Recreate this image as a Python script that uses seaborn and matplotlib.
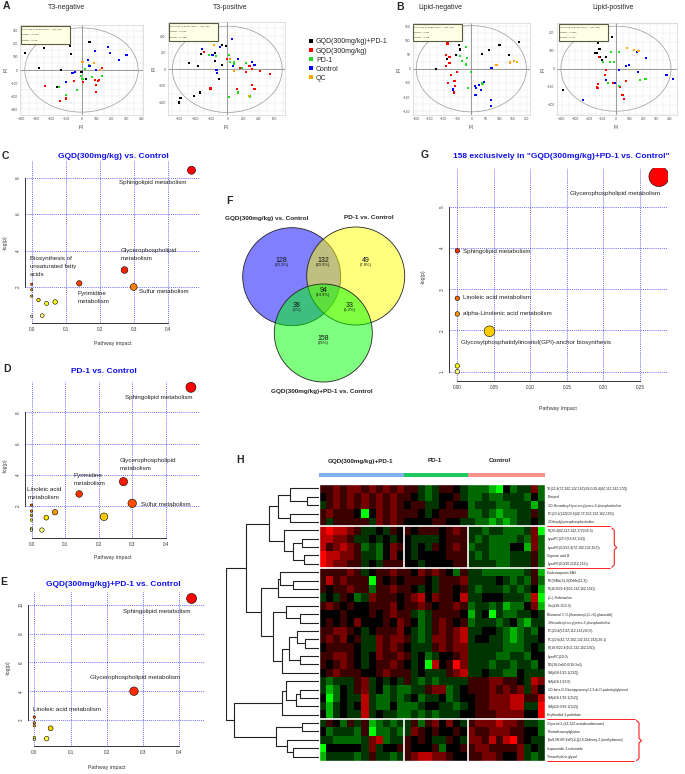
import matplotlib
matplotlib.use('Agg')
import matplotlib.pyplot as plt
import matplotlib.colors as mcolors
from matplotlib.patches import Ellipse, Circle, Rectangle
from matplotlib.ticker import AutoMinorLocator
import seaborn as sns
import pandas as pd
import numpy as np

sns.set_style('white')
plt.rcParams['font.family'] = ['Liberation Sans', 'DejaVu Sans']

# ---------------- data ----------------
groups = ['GQD(300mg/kg)+PD-1', 'GQD(300mg/kg)', 'PD-1', 'Control', 'QC']
group_colors = ['#000000', '#FF0000', '#22DD22', '#0000FF', '#FFA500']

# PCA score plots (t[1], t[2]) per group
t3neg_t1 = [[-378, -252, -75, -71, 53, -281, -135, 0, 31, -164],
            [-241, -141, -102, -49, 9, 91, 108, 119, 95, 95, 135],
            [-152, -102, -31, -2, 7, 24, 68, 139, 51],
            [-106, -60, -46, 46, 53, 91, 95, 179, 190, 248, 300],
            [7, 82, 124]]
t3neg_t2 = [[130, 168, 181, 122, 214, 18, 0, -13, -69, -130],
            [-125, -240, -219, -87, -92, -74, -84, -79, -115, -171, 15],
            [-130, -189, -156, -43, -69, 8, -54, -48, 36],
            [-89, -23, -18, 77, 28, 148, -3, 176, 133, 79, 115],
            [64, 54, -3]]
t3pos_t1 = [[-608, -591, -421, -345, -485, -370, -328, -153, -72, -17, -153, -68, -102],
            [-298, -213, -4, 119, 162, 238, 281, 311, 311, 345, 409, 536],
            [-230, -145, 17, 34, 81, 89, 183, 238, 132, 26, 289],
            [-323, -187, -94, 55, 140, 68, -136, -132, 315, 345],
            [-166, 34, 89, 272]]
t3pos_t2 = [[-400, -348, -320, -280, 80, 44, 180, 192, 292, 284, 100, 52, -120],
            [204, -232, 124, -240, 20, -28, 44, 0, -188, -240, -20, -56],
            [168, 164, 168, 92, 84, 60, 12, 72, -280, -336, -328],
            [240, 172, 272, 364, 128, 36, -8, -48, 92, 52],
            [292, 124, -16, -320]]
lipneg_t1 = [[-127, -88, -55, -45, -40, 39, 65, 102, 135, 173],
             [-86, -91, -79, -79, -91, -53, -73, -61, -85, -58, -64],
             [-18, -40, -33, -15, -18, 0, -12, 40],
             [-67, 12, 18, 28, 45, 36, 15, 70, 70, 73],
             [91, 139, 154, 166]]
lipneg_t2 = [[0, 34, 48, 83, 68, 52, 66, 83, 49, 93],
             [89, 48, 40, 21, 11, -11, -23, -42, -49, -61, -84],
             [77, 46, 28, 39, 15, -11, -67, -52],
             [-73, -61, -69, -57, -46, -75, -93, -110, -131, 2],
             [13, 22, 27, 25]]
lippos_t1 = [[-394, -135, -128, -121, -155, -140, -118, -32, -76, -103],
             [-76, -79, -130, -143, -130, -20, 30, 49, 59, 74, -123],
             [-94, -44, -37, -12, 20, 22, 175, 219, -57],
             [-241, -76, -5, 25, 74, 94, 153, 222, 160, 374, 424],
             [79, 135, 160, 167]]
lippos_t2 = [[-119, 141, 156, 111, 85, 89, 63, 174, 63, 48],
             [-9, -37, -109, -104, -87, -81, -100, -148, -169, -69, 63],
             [35, 39, 91, 37, 94, -96, -63, -57, -81],
             [-174, -63, -81, -7, 17, 19, 91, 61, -20, -35, -56],
             [113, 104, 100, 98]]
# Hotelling T2 ellipse semi-axes, R2X values
t3neg_ell, t3neg_r2x = (378, 323), (0.2418, 0.183)
t3pos_ell, t3pos_r2x = (694, 520), (0.2712, 0.1086)
lipneg_ell, lipneg_r2x = (199, 152), (0.365, 0.169)
lippos_ell, lippos_r2x = (407, 236), (0.3409, 0.163)

# pathway analysis (impact, -log(p))
C_impact = [0.47, 0.273, 0.14, 0.0, 0.30, 0.0, 0.0, 0.02, 0.069, 0.044, 0.0, 0.031]
C_logp = [8.4, 2.93, 2.2, 2.15, 2.0, 1.85, 1.5, 1.29, 1.18, 1.1, 0.4, 0.43]
D_impact = [0.475, 0.274, 0.142, 0.30, 0.0, 0.216, 0.07, 0.0, 0.044, 0.0, 0.0, 0.031, 0.0, 0.0]
D_logp = [9.6, 3.56, 2.77, 2.17, 2.05, 1.31, 1.6, 1.67, 1.25, 1.4, 1.1, 0.46, 0.55, 0.45]
E_impact = [0.434, 0.275, 0.0, 0.0, 0.0, 0.045, 0.0, 0.034, 0.0]
E_logp = [10.45, 4.0, 2.2, 1.8, 1.6, 1.42, 0.78, 0.70, 0.64]
G_impact = [0.276, 0.0, 0.0, 0.0, 0.044, 0.0, 0.0]
G_logp = [5.73, 3.93, 2.78, 2.4, 1.98, 1.14, 1.0]

# Venn counts: A only, A&B, B only, A&B&C, A&C, B&C, C only
venn_counts = [128, 132, 49, 94, 38, 33, 158]
venn_names = ['GQD(300mg/kg) vs. Control', 'PD-1 vs. Control', 'GQD(300mg/kg)+PD-1 vs. Control']

# heatmap: digits 0..8 -> -4..+4 (green..black..red)
hm_groups = ['GQD(300mg/kg)+PD-1', 'PD-1', 'Control']
hm_group_n = [12, 9, 11]
hm_labels = [
    'TG(22:4(7Z,10Z,13Z,16Z)/24:0/20:4(8Z,11Z,14Z,17Z))', 'Elmiprel',
    '1-O-Hexadecyl-lyso-sn-glycero-3-phosphocholine',
    'PC(20:1(11Z)/22:6(4Z,7Z,10Z,13Z,16Z,19Z))', '2-Oleoylglycerophosphocholine',
    'PI(20:4(8Z,11Z,14Z,17Z)/16:0)', 'LysoPC(20:3(5Z,8Z,11Z))',
    'LysoPE(0:0/22:4(7Z,10Z,13Z,16Z))', 'Vignatic acid B', 'LysoPE(0:0/20:2(11Z,14Z))',
    'Kudzusaponin SA3', 'PE(DiMe(11,3)/DiMe(11,3))', 'PI(16:0/22:4(10Z,13Z,16Z,19Z))',
    '(+/-)-Terfenadine', 'Cer(d18:1/12:0)', 'Blumenol C O-[rhamnosyl-(1->6)-glucoside]',
    '1-Hexadecyl-sn-glycero-3-phosphocholine', 'PC(20:4(5Z,8Z,11Z,14Z)/20:0)',
    'PC(22:6(4Z,7Z,10Z,13Z,16Z,19Z)/20:1)', 'PI(18:0/22:4(10Z,13Z,16Z,19Z))',
    'LysoPC(20:0)', 'DG(18:2n6/0:0/18:3n3)', 'SM(d18:1/22:1(13Z))', 'SM(d18:1/23:0)',
    '1-O-beta-D-Glucopyranosyl-2,3-di-O-palmitoylglycerol', 'SM(d18:1/18:1(11Z))',
    'SM(d18:0/18:1(11Z))', 'Erythrodiol 3-palmitate', 'Glycerol 2-(9Z,12Z-octadecadienoate)',
    'Pentadecanoylglycine', '(1aS,5R,6R,8aR)-6-[(2,6-Dideoxy-2-(methylamino)',
    'Isopeonidin 3-rutinoside', 'Tetraethylene glycol']
hm_rows = [
    '556566565656|553235543|22210423362', '456565656565|543234453|22322333242',
    '356565656565|455334544|23332233313', '565554046565|554345555|22321223353',
    '535555536565|444455443|32212123343', '787765334354|545554565|33233222360',
    '776653343434|433334555|32322223262', '756765232465|434354565|23322244162',
    '877665332464|434444555|32322233352', '876655343555|443444455|33332233352',
    '555565345565|546565425|33222222351', '575655505454|555435556|33334323252',
    '545565525565|543435545|32333232341', '343542365554|567465547|33444333270',
    '565454455564|556545565|23323122461', '444544454565|532355554|13403223343',
    '454546444546|542356545|23332342133', '556654345556|432356567|33443212324',
    '565645336566|532366567|34433212334', '455554336565|433356566|33333222343',
    '556654346556|534234456|33332233244', '545654345565|434074586|33323323324',
    '456555445655|534333567|33433224333', '323335634343|532323333|55566554376',
    '312435634232|233566234|55565656364', '402433732232|342334234|45566677557',
    '313434732242|223443323|45566677338', '413433734332|232323334|45556666448',
    '354253512323|352564643|56667665332', '423332502232|365454454|65566655442',
    '332222367233|545433543|66575785433', '044444363445|544452445|56655556343',
    '133332353323|567766544|55665446323']
# row dendrogram merges (left, right, height); new clusters get ids 33, 34, ...
hm_merges = [(1, 2, 1.3), (0, 33, 3.1), (3, 4, 3.1), (34, 35, 4.4),
             (6, 7, 1.8), (8, 9, 1.6), (37, 38, 2.8), (5, 39, 3.8), (36, 40, 5.4),
             (11, 12, 2.8), (10, 42, 4.2), (43, 13, 4.4),
             (15, 16, 2.0), (14, 45, 3.6), (18, 19, 1.5), (17, 47, 2.4), (20, 21, 2.0),
             (48, 49, 3.2), (50, 22, 4.0), (46, 51, 5.0), (44, 52, 6.3), (41, 53, 7.9),
             (24, 25, 2.0), (55, 26, 2.5), (23, 56, 3.6), (57, 27, 4.0),
             (28, 29, 1.8), (31, 32, 2.8), (30, 60, 3.5), (59, 61, 4.6), (58, 62, 9.2),
             (54, 63, 10.0)]

# ---------------- figure ----------------
W, H = 685, 774
fig = plt.figure(figsize=(W / 100, H / 100), dpi=100)


def add_ax(x0, y0, x1, y1):
    return fig.add_axes([x0 / W, 1 - y1 / H, (x1 - x0) / W, (y1 - y0) / H])


def ftext(x, y, s, **kw):
    kw.setdefault('ha', 'center')
    kw.setdefault('va', 'center')
    return fig.text(x / W, 1 - y / H, s, **kw)


# panel letters
for letter, (lx, ly) in zip('ABCDEFGH', [(6, 6), (400, 7), (5, 156), (7, 369), (4, 582),
                                          (229, 201), (425, 155), (240, 460)]):
    ftext(lx, ly, letter, fontsize=7.5, fontweight='bold')


# ---------------- A / B : PCA ----------------
def pca_panel(box, t1, t2, xlim, ylim, xticks, yticks, ell, r2x, info_xy, legend=False):
    ax = add_ax(*box)
    rows = []
    for g, xs, ys in zip(groups, t1, t2):
        rows += [(g, a, b) for a, b in zip(xs, ys)]
    df = pd.DataFrame(rows, columns=['group', 't1', 't2'])
    sns.scatterplot(data=df, x='t1', y='t2', hue='group', hue_order=groups,
                    palette=group_colors, marker='s', s=2.5, linewidth=0,
                    legend=legend, ax=ax, zorder=3)
    ax.set_xlim(*xlim)
    ax.set_ylim(*ylim)
    ax.set_xticks(xticks)
    ax.set_yticks(yticks)
    ax.xaxis.set_minor_locator(AutoMinorLocator(2))
    ax.yaxis.set_minor_locator(AutoMinorLocator(2))
    ax.grid(True, which='both', color='#e4e4e4', lw=0.3)
    ax.axhline(0, color='#777777', lw=0.5, zorder=2)
    ax.axvline(0, color='#777777', lw=0.5, zorder=2)
    ax.add_patch(Ellipse((0, 0), 2 * ell[0], 2 * ell[1], fill=False, ec='#999999', lw=0.5, zorder=2))
    ax.tick_params(labelsize=2.3, length=0.8, width=0.3, pad=0.8, colors='#444444')
    for s in ax.spines.values():
        s.set_color('#c8c8c8')
        s.set_linewidth(0.4)
    ax.set_xlabel('t[1]', fontsize=2.5, labelpad=1.5)
    ax.set_ylabel('t[2]', fontsize=2.5, labelpad=1.5)
    x0, y0 = info_xy
    fig.add_artist(Rectangle((x0 / W, 1 - (y0 + 17.5) / H), 49 / W, 17.5 / H,
                             transform=fig.transFigure, fc='#FFFFE6', ec='#5A5A3C', lw=0.8, zorder=10))
    lines = ["Hotelling's T2 Ellipse (95%%) = (%d, %d)" % ell,
             'R2X[1] = %g' % r2x[0], 'R2X[2] = %g' % r2x[1]]
    for k, ln in enumerate(lines):
        ftext(x0 + 1.5, y0 + 3.5 + 5.3 * k, ln, fontsize=1.6, ha='left', zorder=11)
    return ax


pca_panel((20, 25, 143, 115), t3neg_t1, t3neg_t2, (-410, 410), (-345, 345),
          range(-400, 401, 100), range(-300, 301, 100), t3neg_ell, t3neg_r2x, (20.5, 26))
ax_t3p = pca_panel((168, 22, 285, 115), t3pos_t1, t3pos_t2, (-750, 730), (-550, 570),
                   range(-600, 601, 200), range(-400, 401, 200), t3pos_ell, t3pos_r2x, (169, 23),
                   legend=True)
pca_panel((412.7, 23.3, 530, 115), lipneg_t1, lipneg_t2, (-212, 212), (-163, 160),
          range(-200, 201, 50), range(-150, 151, 50), lipneg_ell, lipneg_r2x, (413, 23.8))
pca_panel((556.7, 23.3, 676.7, 115), lippos_t1, lippos_t2, (-438, 449), (-257, 252),
          range(-400, 401, 100), range(-200, 201, 100), lippos_ell, lippos_r2x, (558.5, 23.8))

handles, labels = ax_t3p.get_legend_handles_labels()
ax_t3p.get_legend().remove()
fig.legend(handles, labels, loc='upper left', bbox_to_anchor=(305 / W, 1 - 35 / H),
           frameon=False, fontsize=5, handletextpad=0.3, labelspacing=0.3,
           borderpad=0, handlelength=0.8, markerscale=1.8)

for txt, (tx, ty) in zip(['T3-negative', 'T3-positive', 'Lipid-negative', 'Lipid-positive'],
                         [(67, 7.5), (230, 7.5), (440, 7.5), (613, 7.5)]):
    ftext(tx, ty, txt, fontsize=5)


# ---------------- C / D / E / G : pathway impact ----------------
def heat_colors(n):
    j = n // 4
    i = n - j
    cols = [mcolors.hsv_to_rgb((h, 1, 1)) for h in np.linspace(0, 1 / 6, i)]
    if j > 0:
        cols += [mcolors.hsv_to_rgb((1 / 6, s, 1))
                 for s in np.linspace(1 - 1 / (2 * j), 1 / (2 * j), j)]
    return cols


def pathway_panel(box, xlim, ylim, xticks, yticks, impact, logp, dmin, dmax, xfmt, labels):
    ax = add_ax(*box)
    n = len(impact)
    order = np.argsort(-np.array(logp), kind='stable')
    cols = heat_colors(n)
    pal = {}
    for r, idx in enumerate(order):
        pal['p%d' % idx] = cols[r]
    imp = np.array(impact)
    diam = dmin + (dmax - dmin) * np.sqrt(imp / imp.max())
    sizes = {'p%d' % i: (diam[i] * 0.72) ** 2 for i in range(n)}
    df = pd.DataFrame({'impact': impact, 'logp': logp, 'pid': ['p%d' % i for i in range(n)]})
    sns.scatterplot(data=df, x='impact', y='logp', hue='pid', palette=pal, size='pid',
                    sizes=sizes, edgecolor='black', linewidth=0.4, legend=False, ax=ax, zorder=3)
    ax.set_xlim(*xlim)
    ax.set_ylim(*ylim)
    ax.set_xticks(xticks)
    ax.set_yticks(yticks)
    ax.set_xticklabels([xfmt % v for v in xticks])
    ax.set_yticklabels(['%g' % v for v in yticks])
    ax.set_axisbelow(True)
    ax.grid(True, color='#4444FF', linestyle=(0, (1, 1.3)), lw=0.6)
    for s in ['top', 'right']:
        ax.spines[s].set_visible(False)
    ax.spines['left'].set_bounds(yticks[0], yticks[-1])
    ax.spines['bottom'].set_bounds(xticks[0], xticks[-1])
    for s in ['left', 'bottom']:
        ax.spines[s].set_color('#333333')
        ax.spines[s].set_linewidth(0.7)
    ax.tick_params(labelsize=3.3, length=1.5, width=0.5, pad=1.5, colors='#333333')
    ax.tick_params(axis='y', labelrotation=90)
    for lbl in ax.get_yticklabels():
        lbl.set_va('center')
    ax.set_xlabel('')
    ax.set_ylabel('')
    for txt, tx, ty in labels:
        ax.text(tx, ty, txt, fontsize=4.5, ha='left', va='center', color='#222222',
                linespacing=1.75, clip_on=False, zorder=4)
    return ax


pathway_panel((25, 160, 200, 323), (-0.0197, 0.495), (0.027, 8.96),
              [0.0, 0.1, 0.2, 0.3, 0.4], [2, 4, 6, 8], C_impact, C_logp, 2.3, 8, '%.1f',
              [('Sphingolipid metabolism', 0.258, 7.74),
               ('Glycerophospholipid\nmetabolism', 0.262, 3.77),
               ('Biosynthesis of\nunsaturated fatty\nacids', -0.005, 3.15),
               ('Sulfur metabolism', 0.317, 1.74),
               ('Pyrimidine\nmetabolism', 0.136, 1.4)])
pathway_panel((25, 381.7, 200, 538), (-0.0194, 0.502), (-0.05, 9.96),
              [0.0, 0.1, 0.2, 0.3, 0.4], [2, 4, 6, 8], D_impact, D_logp, 2.5, 10, '%.1f',
              [('Sphingolipid metabolism', 0.278, 8.96),
               ('Glycerophospholipid\nmetabolism', 0.263, 4.65),
               ('Pyrimidine\nmetabolism', 0.126, 3.7),
               ('Linoleic acid\nmetabolism', -0.013, 2.79),
               ('Sulfur metabolism', 0.325, 2.1)])
pathway_panel((28.3, 592, 205, 746), (-0.0166, 0.471), (0.19, 10.9),
              [0.0, 0.1, 0.2, 0.3, 0.4], [2, 4, 6, 8, 10], E_impact, E_logp, 2.5, 10, '%.1f',
              [('Sphingolipid metabolism', 0.244, 9.52),
               ('Glycerophospholipid metabolism', 0.154, 4.94),
               ('Linoleic acid metabolism', -0.004, 2.76)])
pathway_panel((449.3, 168.3, 667.7, 381), (-0.011, 0.288), (0.775, 5.93),
              [0.0, 0.05, 0.1, 0.15, 0.2, 0.25], [1, 2, 3, 4, 5], G_impact, G_logp, 4.5, 20, '%.2f',
              [('Glycerophospholipid metabolism', 0.154, 5.31),
               ('Sphingolipid metabolism', 0.0074, 3.91),
               ('Linoleic acid metabolism', 0.0074, 2.79),
               ('alpha-Linolenic acid metabolism', 0.0074, 2.42),
               ('Glycosylphosphatidylinositol(GPI)-anchor biosynthesis', 0.0047, 1.71)])

title_kw = dict(fontsize=6, fontweight='bold', color='#1010EE')
ftext(113, 156, 'GQD(300mg/kg) vs. Control', **title_kw)
ftext(104, 371, 'PD-1 vs. Control', **title_kw)
ftext(113, 585, 'GQD(300mg/kg)+PD-1 vs. Control', **title_kw)
ftext(561, 156, '158 exclusively in "GQD(300mg/kg)+PD-1 vs. Control"', **title_kw)
for (x, y) in [(113, 344), (113, 558), (107, 767)]:
    ftext(x, y, 'Pathway impact', fontsize=3.8, color='#333333')
ftext(558, 408, 'Pathway Impact', fontsize=3.8, color='#333333')
for (x, y) in [(5, 243), (5, 466), (8.5, 668), (423, 277)]:
    ftext(x, y, '-log(p)', fontsize=3.6, rotation=90, color='#333333')

# ---------------- F : Venn ----------------
axv = add_ax(230, 195, 412, 400)
axv.set_xlim(230, 412)
axv.set_ylim(400, 195)
axv.axis('off')
for (cx, cy), fc in zip([(291.7, 276.7), (355.7, 276.0), (323.3, 333.0)],
                        [(0, 0, 1, 0.5), (1, 1, 0, 0.5), (0, 1, 0, 0.5)]):
    axv.add_patch(Circle((cx, cy), 49, fc=fc, ec='#222222', lw=0.6))
total = sum(venn_counts)
venn_pos = [(281.7, 262), (323.3, 262), (365.7, 262), (323.3, 292), (296.7, 307),
            (350, 307), (323.3, 340)]
for cnt, (vx, vy) in zip(venn_counts, venn_pos):
    axv.text(vx, vy - 1.5, str(cnt), fontsize=5, ha='center', va='center', color='#111111')
    axv.text(vx, vy + 3.5, '(%g%%)' % round(100 * cnt / total, 1), fontsize=3,
             ha='center', va='center', color='#111111')
ftext(266.7, 218.5, venn_names[0], fontsize=4.6, fontweight='bold')
ftext(369, 217.5, venn_names[1], fontsize=4.6, fontweight='bold')
ftext(321.7, 391, venn_names[2], fontsize=4.6, fontweight='bold')

# ---------------- H : heatmap ----------------
hm = np.array([[int(c) - 4 for c in r.replace('|', '')] for r in hm_rows])
n_rows, n_cols = hm.shape
cmap = mcolors.LinearSegmentedColormap.from_list(
    'gkr', ['#00FF00', '#006A00', '#000000', '#740000', '#FF0000'])
axh = add_ax(319, 484.3, 545.3, 760.7)
sns.heatmap(pd.DataFrame(hm, index=hm_labels), cmap=cmap, vmin=-4, vmax=4, cbar=False,
            xticklabels=False, yticklabels=True, ax=axh)
axh.yaxis.tick_right()
axh.set_yticks(np.arange(n_rows) + 0.5)
axh.set_yticklabels(hm_labels, fontsize=2.4, rotation=0, color='#222222')
axh.tick_params(axis='y', length=0, pad=1.5)
axh.set_ylabel('')

bounds = np.cumsum(hm_group_n)
for r in [5, 10, 28]:
    axh.axhline(r, color='white', lw=1.2)
for (r0, r1) in [(5, 10), (28, 33)]:
    for b in bounds[:-1]:
        axh.plot([b, b], [r0, r1], color='white', lw=1.2)
axh.add_patch(Rectangle((0, 0), n_cols, n_rows, fill=False, ec='white', lw=1.0, clip_on=False))


def brace(ax, x, y0, y1, w):
    h = y1 - y0
    xs = [x, x + 0.5 * w, x + 0.5 * w, x + w, x + 0.5 * w, x + 0.5 * w, x]
    ys = [y0, y0 + 0.06 * h, y0 + 0.44 * h, y0 + 0.5 * h, y0 + 0.56 * h, y0 + 0.94 * h, y1]
    ax.plot(xs, ys, color='red', lw=0.7, clip_on=False)


red_kw = dict(color='red', lw=0.6, clip_on=False)
axh.plot([32.2, 41.2], [5, 5], **red_kw)
axh.plot([32.2, 41.2], [10, 10], **red_kw)
brace(axh, 41.4, 5.2, 9.9, 0.7)
axh.plot([32.2, 44.7], [28, 28], **red_kw)
axh.plot([32.2, 44.5], [33, 33], **red_kw)
brace(axh, 44.9, 28.2, 33, 0.7)

# group colour bar
axg = add_ax(319, 472.5, 545.3, 477)
bar_colors = ['#7FB2EE', '#1ECB5E', '#F8948D']
grp_idx = np.repeat(np.arange(len(hm_groups)), hm_group_n)[None, :]
sns.heatmap(grp_idx, cmap=mcolors.ListedColormap(bar_colors), vmin=-0.5, vmax=2.5,
            cbar=False, xticklabels=False, yticklabels=False, ax=axg)
for g, (gx, gy) in zip(hm_groups, [(360, 462), (435, 461), (500, 461)]):
    ftext(gx, gy, g, fontsize=4.5, fontweight='bold', color='#222222')

# dendrogram
axd = add_ax(226, 484.3, 319, 760.7)
axd.set_ylim(n_rows, 0)
axd.set_xlim(10.05, 0)
axd.axis('off')
pos = {i: i + 0.5 for i in range(n_rows)}
hgt = {i: 0.0 for i in range(n_rows)}
for k, (a, b, h) in enumerate(hm_merges):
    nid = n_rows + k
    axd.plot([hgt[a], h], [pos[a], pos[a]], color='#222222', lw=0.8)
    axd.plot([hgt[b], h], [pos[b], pos[b]], color='#222222', lw=0.8)
    axd.plot([h, h], [pos[a], pos[b]], color='#222222', lw=0.8)
    pos[nid] = (pos[a] + pos[b]) / 2
    hgt[nid] = h

fig.savefig('out.png', dpi=100)
